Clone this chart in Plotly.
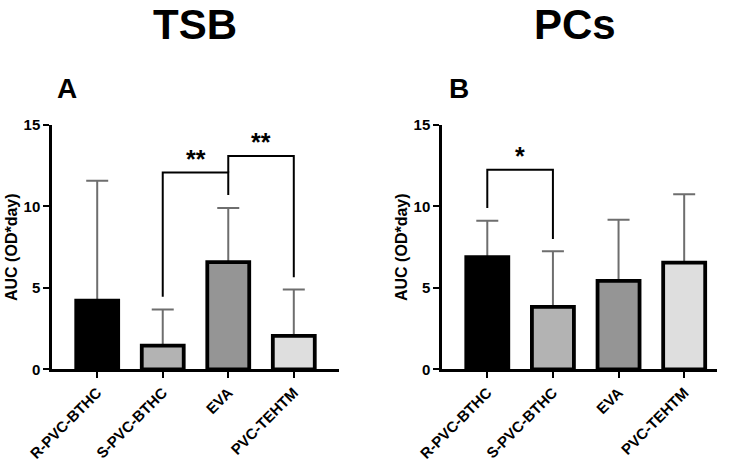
import plotly.graph_objects as go

categories = ["R-PVC-BTHC", "S-PVC-BTHC", "EVA", "PVC-TEHTM"]
bar_colors = ["#000000", "#b3b3b3", "#959595", "#dedede"]

tsb_mean = [4.22, 1.45, 6.58, 2.05]
tsb_err = [7.35, 2.22, 3.33, 2.85]
pcs_mean = [6.88, 3.83, 5.43, 6.55]
pcs_err = [2.24, 3.42, 3.75, 4.20]

# significance brackets: (left index, right index, top, left leg bottom, right leg bottom, label)
tsb_brackets = [(1, 2, 12.08, 4.45, 10.7, "**"), (2, 3, 13.1, 12.08, 5.65, "**")]
pcs_brackets = [(0, 1, 12.25, 9.9, 8.0, "*")]

FONT = "Liberation Sans, Arial, sans-serif"

fig = go.Figure()

panels = [
    ("x", "y", tsb_mean, tsb_err, tsb_brackets),
    ("x2", "y2", pcs_mean, pcs_err, pcs_brackets),
]
xi = list(range(len(categories)))
for xa, ya, mean, err, brackets in panels:
    # error bars (drawn first, so the bars cover the lower cap)
    fig.add_trace(go.Bar(
        x=xi, y=mean, xaxis=xa, yaxis=ya, width=0.64,
        marker=dict(color="rgba(0,0,0,0)", line=dict(width=0)),
        error_y=dict(type="data", array=err, arrayminus=[0] * len(err), symmetric=False,
                     color="#6e6e6e", thickness=2, width=11),
        showlegend=False, hoverinfo="skip",
    ))
    fig.add_trace(go.Bar(
        x=xi, y=mean, xaxis=xa, yaxis=ya, width=0.64,
        marker=dict(color=bar_colors, line=dict(color="#000000", width=3.8)),
        showlegend=False, hoverinfo="skip",
    ))
    for (a, b, top, lb, rb, lab) in brackets:
        fig.add_trace(go.Scatter(
            x=[a, a, b, b], y=[lb, top, top, rb], xaxis=xa, yaxis=ya,
            mode="lines", line=dict(color="#000000", width=2),
            showlegend=False, hoverinfo="skip",
        ))
        fig.add_annotation(
            x=(a + b) / 2, y=top, xref=xa, yref=ya, text=lab, showarrow=False,
            yanchor="bottom", yshift=-2,
            font=dict(family=FONT, size=25, color="#000000", weight="bold"),
        )

axis_common = dict(
    showline=True, linecolor="#000000", linewidth=2.5, showgrid=False, zeroline=False,
    ticks="outside", ticklen=6, tickwidth=2, tickcolor="#000000", automargin=False,
)
xcommon = dict(axis_common, tickvals=xi, ticktext=categories, tickangle=-45,
               tickfont=dict(family=FONT, size=15, color="#000000", weight="bold"))
ycommon = dict(axis_common, range=[0, 15], tickvals=[0, 5, 10, 15],
               tickfont=dict(family=FONT, size=15, color="#000000", weight="bold"))

fig.update_layout(
    width=733, height=464,
    margin=dict(l=0, r=0, t=0, b=0, pad=0, autoexpand=False),
    paper_bgcolor="#ffffff", plot_bgcolor="#ffffff",
    barmode="overlay", showlegend=False,
    xaxis=dict(xcommon, domain=[52 / 733, 339 / 733], range=[-0.69, 3.69], anchor="y"),
    yaxis=dict(ycommon, domain=[1 - 369.3 / 464, 1 - 125 / 464], anchor="x"),
    xaxis2=dict(xcommon, domain=[442 / 733, 717 / 733], range=[-0.69, 3.5], anchor="y2"),
    yaxis2=dict(ycommon, domain=[1 - 369.3 / 464, 1 - 125 / 464], anchor="x2"),
)

# panel titles, letters and y titles
for txt, xp in [("TSB", 195), ("PCs", 575)]:
    fig.add_annotation(x=xp / 733, y=1, xref="paper", yref="paper", text=txt,
                       showarrow=False, xanchor="center", yanchor="top", borderpad=0,
                       font=dict(family=FONT, size=42, color="#000000", weight="bold"))
for txt, xp in [("A", 67), ("B", 458.5)]:
    fig.add_annotation(x=xp / 733, y=1 - 88 / 464, xref="paper", yref="paper", text=txt,
                       showarrow=False, xanchor="center", yanchor="middle",
                       font=dict(family=FONT, size=28, color="#000000", weight="bold"))
for xp in [11, 401]:
    fig.add_annotation(x=xp / 733, y=1 - 247 / 464, xref="paper", yref="paper",
                       text="AUC (OD*day)", textangle=-90, showarrow=False,
                       xanchor="center", yanchor="middle",
                       font=dict(family=FONT, size=16, color="#000000", weight="bold"))

fig.write_html("out.html")
